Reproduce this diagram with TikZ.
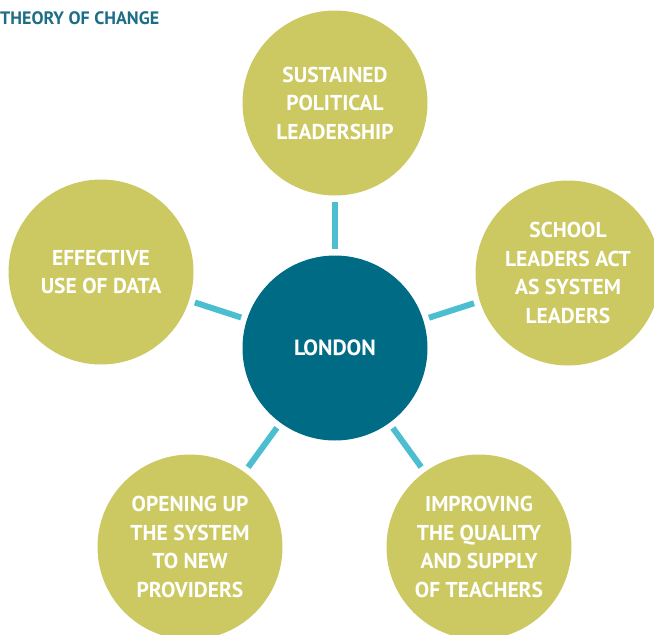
\documentclass[tikz,border=0pt]{standalone}
\usepackage{fontspec}
\setmainfont{PT Sans}
\usetikzlibrary{positioning}
\definecolor{leafgreen}{HTML}{CCC962}
\definecolor{deepteal}{HTML}{006B85}
\definecolor{skyline}{HTML}{4CBED0}
\definecolor{inktitle}{HTML}{1D6E85}

\begin{document}
\begin{tikzpicture}[x=1pt, y=-1pt,
    hub/.style={circle, fill=deepteal, minimum size=185pt, inner sep=0pt, text=white, font=\bfseries\fontsize{22}{28.5}\selectfont},
    spoke/.style={circle, fill=leafgreen, minimum size=185pt, inner sep=0pt, align=center, text=white, font=\bfseries\fontsize{21.5}{28.5}\selectfont},
    link/.style={line width=6pt, skyline, shorten <=6pt, shorten >=6pt},
    heading/.style={font=\bfseries\fontsize{18}{20}\selectfont, text=inktitle, anchor=west, inner sep=0pt}
  ]
    \useasboundingbox (0,0) rectangle (654,635);
    \node[heading] (title) at (0,18.5) {THEORY OF CHANGE};

    \node[hub] (london) at (335,348) {LONDON};

    \node[spoke] (politics) at (335,103) {SUSTAINED\\POLITICAL\\LEADERSHIP};
    \node[spoke] (school) at (568,273) {SCHOOL\\LEADERS ACT\\AS SYSTEM\\LEADERS};
    \node[spoke] (data) at (101,272) {EFFECTIVE\\USE OF DATA};
    \node[spoke] (providers) at (190,547) {OPENING UP\\THE SYSTEM\\TO NEW\\PROVIDERS};
    \node[spoke] (teachers) at (479,547) {IMPROVING\\THE QUALITY\\AND SUPPLY\\OF TEACHERS};

    % spokes out of the hub
    \foreach \s in {politics,school,data,providers,teachers} {
      \draw[link] (london) -- (\s);
    }
  \end{tikzpicture}
\end{document}
